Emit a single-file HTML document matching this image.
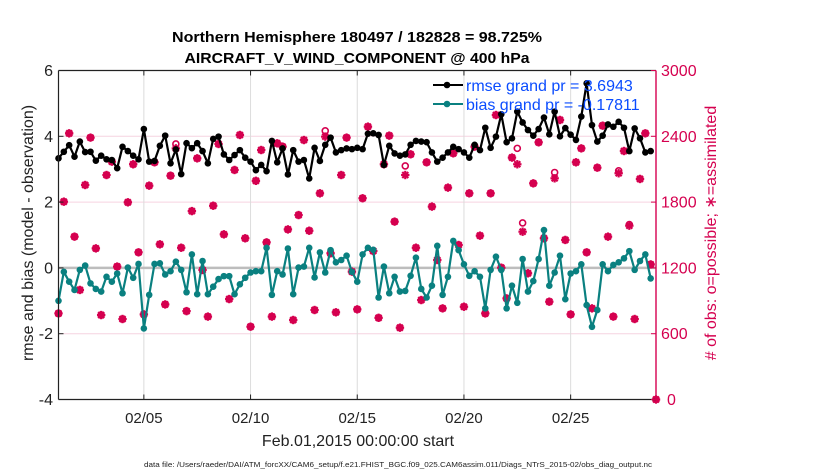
<!DOCTYPE html>
<html><head><meta charset="utf-8">
<style>
html,body{margin:0;padding:0;background:#fff;}
svg{display:block;font-family:"Liberation Sans",Arial,sans-serif;}
</style></head>
<body>
<svg id="chart" width="830" height="470" viewBox="0 0 830 470" xmlns="http://www.w3.org/2000/svg">
  <rect x="0" y="0" width="830" height="470" fill="#fff"/>
  <g id="grid"></g>
  <g id="marks"></g>
  <g id="axes"></g>
  <text x="357" y="42" text-anchor="middle" font-size="15" font-weight="bold" textLength="370" lengthAdjust="spacingAndGlyphs">Northern Hemisphere 180497 / 182828 = 98.725%</text>
  <text x="357" y="63" text-anchor="middle" font-size="15" font-weight="bold" textLength="345" lengthAdjust="spacingAndGlyphs">AIRCRAFT_V_WIND_COMPONENT @ 400 hPa</text>
  <text x="358" y="446" text-anchor="middle" font-size="16" fill="#222">Feb.01,2015 00:00:00 start</text>
  <text x="398" y="467" text-anchor="middle" font-size="7.5" fill="#222" textLength="508" lengthAdjust="spacingAndGlyphs">data file: /Users/raeder/DAI/ATM_forcXX/CAM6_setup/f.e21.FHIST_BGC.f09_025.CAM6assim.011/Diags_NTrS_2015-02/obs_diag_output.nc</text>
  <text transform="translate(33,233) rotate(-90)" text-anchor="middle" font-size="16" fill="#222">rmse and bias (model - observation)</text>
  <text transform="translate(716,233) rotate(-90)" text-anchor="middle" font-size="16" fill="#d5004f">#  of obs: o=possible; ∗=assimilated</text>
  <g id="legend">
    <line x1="433" y1="85" x2="463" y2="85" stroke="#000" stroke-width="2"/>
    <circle cx="447" cy="85" r="3.3" fill="#000"/>
    <text x="466" y="91" font-size="16" fill="#0a4cff">rmse grand pr = 3.6943</text>
    <line x1="433" y1="104" x2="463" y2="104" stroke="#0a8080" stroke-width="2"/>
    <circle cx="447" cy="104" r="3.3" fill="#0a8080"/>
    <text x="466" y="110" font-size="16" fill="#0a4cff">bias grand pr = -0.17811</text>
  </g>
</svg>
<script>
const rmse = [3.33,3.53,3.73,3.38,3.84,3.52,3.53,3.26,3.41,3.30,3.28,3.03,3.68,3.55,3.41,3.30,4.22,3.23,3.25,3.71,4.02,3.18,3.60,2.85,3.79,3.64,3.79,3.55,3.18,3.92,3.99,3.45,3.28,3.43,3.58,3.35,3.23,2.97,3.13,2.94,3.86,3.21,3.63,2.84,3.58,3.23,3.28,2.72,3.65,3.25,3.74,3.96,3.51,3.58,3.63,3.61,3.65,3.61,4.08,4.09,4.04,3.13,3.71,3.48,3.41,3.45,3.74,3.86,3.84,3.82,3.51,3.23,3.35,3.51,3.68,3.61,3.51,3.35,3.74,3.58,4.26,3.65,3.99,4.67,3.82,3.94,4.75,4.42,4.19,4.02,4.22,4.57,4.06,4.75,4.00,4.25,4.05,3.89,4.60,5.61,4.34,3.84,4.02,4.36,4.29,4.44,4.26,3.55,4.24,3.94,3.51,3.55];
const bias = [-1.00,-0.12,-0.42,-0.67,-0.06,0.07,-0.47,-0.64,-0.72,-0.27,-0.42,-0.17,-0.77,0.01,-0.30,0.12,-1.84,-0.82,0.12,0.14,-0.20,-0.10,0.19,-0.06,-0.74,0.41,-0.80,0.21,-0.80,-0.57,-0.34,-0.25,-0.25,-0.80,-0.50,-0.30,-0.14,-0.10,-0.10,0.61,-0.82,-0.10,-0.20,0.59,-0.80,0.01,0.04,0.61,-0.29,0.47,-0.14,0.54,0.17,0.24,0.37,-0.12,-0.42,0.41,0.61,0.55,-0.90,0.04,-0.77,-0.27,-0.72,-0.70,-0.24,0.31,-0.64,-0.90,-0.54,0.67,-0.82,-0.27,0.82,0.54,0.11,-0.24,-0.10,-0.27,-1.23,-0.06,0.34,-0.06,-1.23,-0.54,-1.06,0.27,-0.72,-0.40,0.27,1.15,-0.54,-0.14,0.37,-0.95,-0.17,-0.10,0.11,-1.13,-1.79,-1.28,0.11,-0.10,0.09,0.17,0.29,0.51,-0.06,0.21,0.41,-0.32];
const assimilated = [785,1804,2427,1485,999,1956,2388,1378,770,2047,2169,1212,734,1798,2145,1342,776,1950,2163,1415,867,2041,2290,1384,806,1718,2199,1181,756,1767,2330,1506,916,2093,2412,1470,664,1994,2275,1433,756,2336,2306,1551,725,1682,2366,1539,816,1880,2397,1333,795,2047,2388,1166,822,1835,2488,1354,745,2145,2406,1622,655,2047,2236,1384,907,2163,1759,1272,831,1932,2245,1409,846,1880,2306,1494,785,1880,2594,1202,922,2206,2145,1530,1151,1971,2345,1470,892,2017,2549,1455,776,2163,2290,1342,831,2114,2497,1485,756,2063,2266,1585,734,2011,2427,1232,0];
const possible = [785,1804,2427,1485,999,1956,2388,1378,770,2047,2169,1212,734,1798,2145,1342,776,1950,2163,1415,867,2041,2330,1384,806,1718,2199,1181,756,1767,2330,1506,916,2093,2412,1470,664,1994,2275,1433,756,2336,2306,1551,725,1682,2366,1539,816,1880,2450,1333,795,2047,2388,1166,822,1835,2488,1354,745,2145,2406,1622,655,2130,2236,1384,907,2163,1759,1272,831,1932,2245,1409,846,1880,2306,1494,785,1880,2594,1202,922,2206,2290,1610,1151,1971,2345,1470,892,2070,2549,1455,776,2163,2290,1342,831,2114,2497,1485,756,2085,2266,1595,734,2011,2427,1232,0];
const xTickDays = [5,10,15,20,25];
const xTickLabels = ['02/05','02/10','02/15','02/20','02/25'];
const leftTicks = [6,4,2,0,-2,-4];
const rightTicks = [3000,2400,1800,1200,600,0];

const NS='http://www.w3.org/2000/svg';
const X0=58.5, X1=656, Y0=70.5, Y1=399.5;
const xOfDay = d => X0 + (d-1)/(29-1)*(X1-X0);
const xOfIdx = i => xOfDay(1 + i/4);
const yL = v => Y0 + (6 - v)/10*(Y1-Y0);
const yR = c => Y0 + (3000 - c)/3000*(Y1-Y0);
function mk(tag, attrs, parent){const e=document.createElementNS(NS,tag);for(const k in attrs)e.setAttribute(k,attrs[k]);parent.appendChild(e);return e;}
const grid=document.getElementById('grid'), marks=document.getElementById('marks'), axes=document.getElementById('axes');
const PINK='#d5004f', TEAL='#0a8080';

// grid
rightTicks.forEach(c=>{ if(c>0&&c<3000){ const l=mk('line',{x1:X0,x2:X1,y1:yR(c),y2:yR(c),stroke:'#f6d3e0','stroke-width':1},grid);

 }});
xTickDays.forEach(d=>{ const l=mk('line',{x1:xOfDay(d),x2:xOfDay(d),y1:Y0,y2:Y1,stroke:'#dcdcdc','stroke-width':1},grid);

 });
const zl=mk('line',{x1:X0,x2:X1,y1:yL(0),y2:yL(0),stroke:'#bdbdbd','stroke-width':2.5},grid);



// obs counts
function star(cx,cy,g){
  const r=4.2,d=3;
  mk('line',{x1:cx-r,x2:cx+r,y1:cy,y2:cy},g);
  mk('line',{x1:cx,x2:cx,y1:cy-r,y2:cy+r},g);
  mk('line',{x1:cx-d,x2:cx+d,y1:cy-d,y2:cy+d},g);
  mk('line',{x1:cx-d,x2:cx+d,y1:cy+d,y2:cy-d},g);
}
possible.forEach((c,i)=>{ const x = i<112 ? xOfIdx(i) : X1;
  const o=mk('circle',{cx:x,cy:yR(c),r:3,fill:'none',stroke:PINK,'stroke-width':1.6},marks);
  
   });
assimilated.forEach((c,i)=>{ const x = i<112 ? xOfIdx(i) : X1;
  const g=mk('g',{stroke:PINK,'stroke-width':2.2},marks);
  
  
  star(x,yR(c),g); });

// series
function series(vals,color,name){
  const pts=vals.map((v,i)=>xOfIdx(i).toFixed(1)+','+yL(v).toFixed(1)).join(' ');
  const pl=mk('polyline',{points:pts,fill:'none',stroke:color,'stroke-width':2.2,'stroke-linejoin':'round'},marks);
  
  
  vals.forEach((v,i)=>{ const c=mk('circle',{cx:xOfIdx(i),cy:yL(v),r:3.3,fill:color},marks);
    
     });
}
series(rmse,'#000','rmse');
series(bias,TEAL,'bias');

// axes frame
mk('line',{x1:X0,x2:X1,y1:Y0,y2:Y0,stroke:'#222','stroke-width':1.2},axes);
mk('line',{x1:X0,x2:X1,y1:Y1,y2:Y1,stroke:'#222','stroke-width':1.2},axes);
mk('line',{x1:X0,x2:X0,y1:Y0,y2:Y1,stroke:'#222','stroke-width':1.2},axes);
mk('line',{x1:X1,x2:X1,y1:Y0,y2:Y1,stroke:PINK,'stroke-width':1.4},axes);
xTickDays.forEach((d,k)=>{
  const x=xOfDay(d);
  mk('line',{x1:x,x2:x,y1:Y1,y2:Y1-5,stroke:'#222','stroke-width':1},axes);
  mk('line',{x1:x,x2:x,y1:Y0,y2:Y0+5,stroke:'#222','stroke-width':1},axes);
  const t=mk('text',{x:x,y:423,'text-anchor':'middle','font-size':15,fill:'#222'},axes);
  
  
  t.textContent=xTickLabels[k];
});
leftTicks.forEach(v=>{
  const y=yL(v);
  mk('line',{x1:X0,x2:X0+5,y1:y,y2:y,stroke:'#222','stroke-width':1},axes);
  const t=mk('text',{x:53,y:y+5.5,'text-anchor':'end','font-size':16,fill:'#222'},axes);
  
  
  t.textContent=v;
});
rightTicks.forEach(c=>{
  const y=yR(c);
  mk('line',{x1:X1-5,x2:X1,y1:y,y2:y,stroke:PINK,'stroke-width':1},axes);
  const t=mk('text',{x:c===0?667:661,y:y+5.5,'text-anchor':'start','font-size':16,fill:PINK},axes);
  
  
  t.textContent=c;
});
</script>
</body></html>
